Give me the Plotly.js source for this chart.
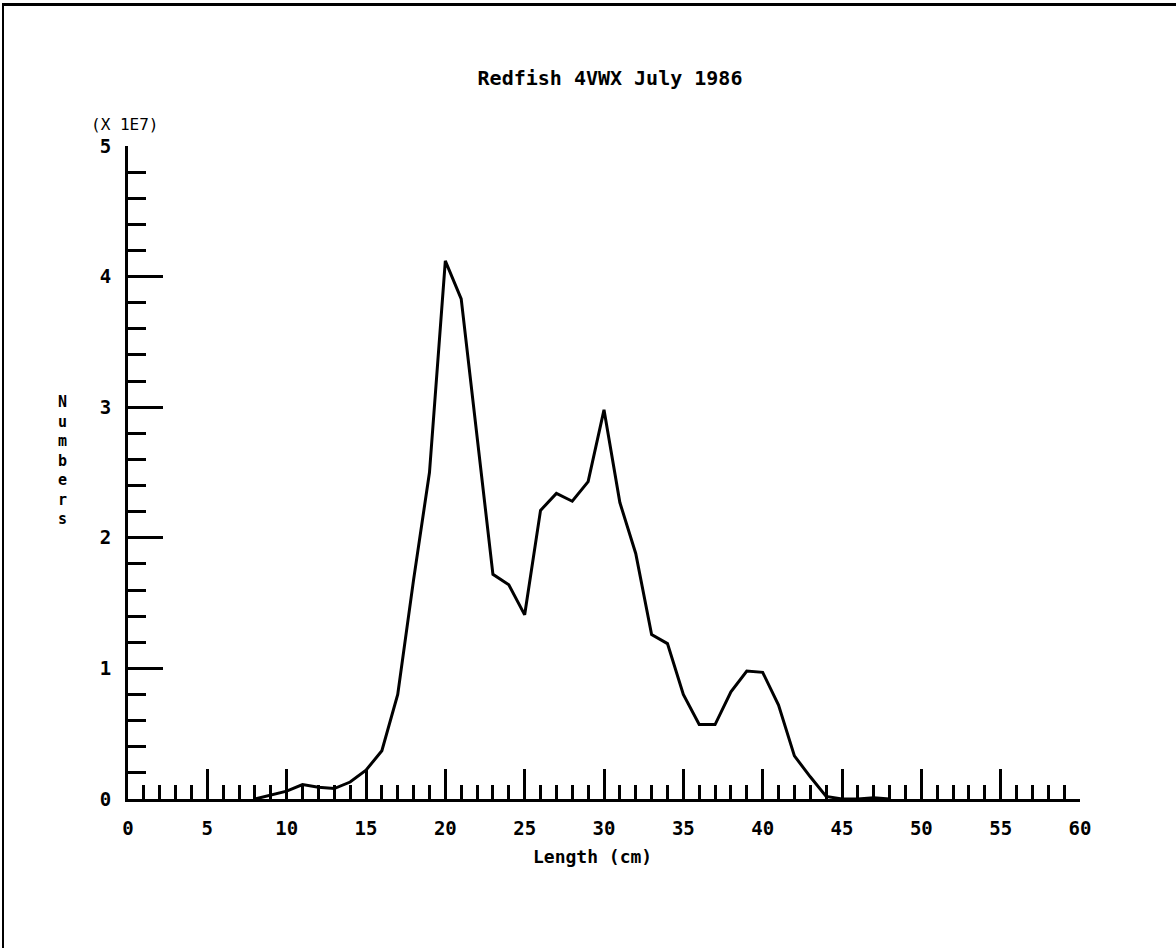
<!DOCTYPE html>
<html>
<head>
<meta charset="utf-8">
<script src="https://cdn.plot.ly/plotly-3.0.1.min.js"></script>
<style>
  html, body { margin: 0; padding: 0; background: #fff; }
  #wrap { position: relative; width: 1176px; height: 948px; }
  #chart { width: 1176px; height: 948px; }
  #frame {
    position: absolute; left: 2px; top: 3px; right: 0; bottom: 0;
    border-top: 3px solid #000; border-left: 2px solid #000;
    pointer-events: none;
  }
</style>
</head>
<body>
<div id="wrap">
  <div id="chart"></div>
  <div id="frame"></div>
</div>
<script>
// Length classes (cm)
const lengthCm = [8, 9, 10, 11, 12, 13, 14, 15, 16, 17, 18, 19, 20, 21, 22, 23, 24, 25, 26, 27,
                  28, 29, 30, 31, 32, 33, 34, 35, 36, 37, 38, 39, 40, 41, 42, 43, 44, 45, 46, 47, 48];
// Numbers at length, in units of 1E7
const numbersE7 = [0.00, 0.03, 0.06, 0.11, 0.09, 0.08, 0.13, 0.22, 0.37, 0.80, 1.68, 2.50, 4.12, 3.83,
                   2.77, 1.72, 1.64, 1.41, 2.21, 2.34, 2.28, 2.43, 2.98, 2.27, 1.88, 1.26, 1.19, 0.80,
                   0.57, 0.57, 0.82, 0.98, 0.97, 0.72, 0.33, 0.17, 0.02, 0.00, 0.00, 0.01, 0.00];

const chartTitle = 'Redfish 4VWX July 1986';
const xTitle = 'Length (cm)';
const yTitle = 'Numbers';
const yScaleNote = '(X 1E7)';

const mono = 'DejaVu Sans Mono, monospace';
const ink = '#000';

const trace = {
  x: lengthCm,
  y: numbersE7,
  type: 'scatter',
  mode: 'lines',
  line: { color: ink, width: 3 },
  hoverinfo: 'skip'
};

const layout = {
  width: 1176,
  height: 948,
  margin: { l: 128, r: 96, t: 146, b: 149, pad: 0 },
  paper_bgcolor: '#fff',
  plot_bgcolor: '#fff',
  showlegend: false,
  title: {
    text: chartTitle,
    font: { family: mono, size: 20, color: ink, weight: 'bold' },
    xref: 'paper', x: (610 - 128) / 952, xanchor: 'center',
    yref: 'container', y: 1 - 78 / 948, yanchor: 'middle'
  },
  xaxis: {
    range: [0, 60],
    tick0: 0, dtick: 5,
    showgrid: false, zeroline: false,
    showline: true, linecolor: ink, linewidth: 3,
    ticks: 'inside', ticklen: 30, tickwidth: 3, tickcolor: ink,
    minor: { dtick: 1, ticks: 'inside', ticklen: 14, tickwidth: 3, tickcolor: ink, showgrid: false },
    tickfont: { family: mono, size: 19, color: ink, weight: 'bold' },
    ticklabelstandoff: 10,
    fixedrange: true
  },
  yaxis: {
    range: [0, 5],
    tick0: 0, dtick: 1,
    showgrid: false, zeroline: false,
    showline: true, linecolor: ink, linewidth: 3,
    ticks: 'inside', ticklen: 35, tickwidth: 3, tickcolor: ink,
    minor: { dtick: 0.2, ticks: 'inside', ticklen: 18, tickwidth: 3, tickcolor: ink, showgrid: false },
    tickfont: { family: mono, size: 19, color: ink, weight: 'bold' },
    ticklabelstandoff: 10,
    fixedrange: true
  },
  annotations: [
    {
      text: xTitle, showarrow: false,
      xref: 'paper', yref: 'paper',
      x: (592 - 128) / 952, y: (799 - 856) / 653,
      xanchor: 'center', yanchor: 'middle',
      font: { family: mono, size: 18, color: ink, weight: 'bold' }
    },
    {
      text: yTitle.split('').join('<br>'), showarrow: false,
      xref: 'paper', yref: 'paper',
      x: (62 - 128) / 952, y: (799 - 460) / 653,
      xanchor: 'center', yanchor: 'middle',
      font: { family: mono, size: 15, color: ink, weight: 'bold' }
    },
    {
      text: yScaleNote, showarrow: false,
      xref: 'paper', yref: 'paper',
      x: (124 - 128) / 952, y: (799 - 124) / 653,
      xanchor: 'center', yanchor: 'middle',
      font: { family: mono, size: 16, color: ink }
    }
  ]
};

Plotly.newPlot('chart', [trace], layout, { displayModeBar: false, staticPlot: true });
</script>
</body>
</html>
